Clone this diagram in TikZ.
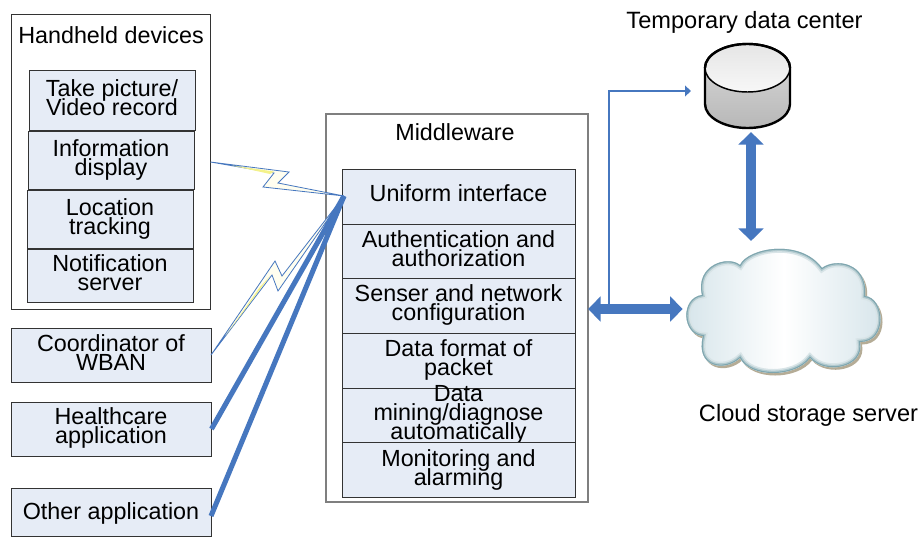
\documentclass[tikz,border=0pt]{standalone}
\usepackage{fontspec}
\setmainfont{Liberation Sans}
\usetikzlibrary{arrows.meta,shapes.geometric}
\setlength{\lineskiplimit}{-100pt}
\setlength{\normallineskiplimit}{-100pt}
\definecolor{boxfill}{HTML}{E6ECF6}
\definecolor{linkblue}{HTML}{4677BF}
\definecolor{outergrey}{HTML}{7F7F7F}
\definecolor{boltyellow}{HTML}{F4F28A}
\definecolor{boltpale}{HTML}{FFFEF0}
\definecolor{cloudedge}{HTML}{7FA6AF}
\definecolor{cloudbody}{HTML}{D5E4EA}
\definecolor{cloudshadow}{HTML}{B5AC96}
\tikzset{
  lab/.style={align=center,inner sep=0pt,font=\fontsize{17.5}{14.2}\selectfont,text=black},
  biglab/.style={lab,font=\fontsize{17.7}{14.2}\selectfont},
  cell/.style={lab,draw=black!80,line width=0.7pt,fill=boxfill},
  outer/.style={lab,draw=black!80,line width=0.7pt,fill=white},
  midouter/.style={lab,draw=outergrey,line width=1pt,fill=white},
  bolt/.style={draw=linkblue,line width=0.6pt,fill=boltpale,line join=miter},
  sliver/.style={fill=boltyellow,draw=none},
  thicklink/.style={draw=linkblue,line width=3.8pt},
  thinlink/.style={draw=linkblue,line width=1.5pt,-{Triangle[width=8pt,length=4.5pt]}},
  dbl/.style={draw=linkblue,line width=7.5pt,{Triangle[width=18.5pt,length=9.5pt]}-{Triangle[width=18.5pt,length=9.5pt]}},
}
% name, style, x1, y1, x2, y2, text, vertical text shift
\newcommand{\pxbox}[8]{%
  \pgfmathsetmacro{\cxv}{(#3+#5)/2}\pgfmathsetmacro{\cyv}{(#4+#6)/2}%
  \pgfmathsetmacro{\wv}{(#5-#3)*0.75}\pgfmathsetmacro{\hv}{(#6-#4)*0.75}%
  \node[#2,minimum width=\wv pt,minimum height=\hv pt] (#1) at (\cxv,\cyv) {};%
  \node[lab] (#1t) at (\cxv,\cyv+#8) {#7};%
}
\begin{document}
\begin{tikzpicture}[x=0.75pt,y=-0.75pt]
\useasboundingbox (0,0) rectangle (919,536);
\fill[white] (0,0) rectangle (919,536);

% left group
\pxbox{hand}{outer}{11}{14}{210}{309}{}{0}
\node[lab] (handt) at (111,35) {Handheld devices};
\pxbox{pic}{cell}{29}{70}{195}{130}{Take picture/\\Video record}{-2}
\pxbox{info}{cell}{28}{131}{194}{189}{Information\\display}{-0.5}
\pxbox{loc}{cell}{27}{190}{193}{248}{Location\\tracking}{0}
\pxbox{notif}{cell}{27}{249}{193}{302}{Notification\\server}{-3}
\pxbox{coord}{cell}{11}{328}{211}{382}{Coordinator of\\WBAN}{-2}
\pxbox{health}{cell}{11}{402}{211}{456}{Healthcare\\application}{-1}
\pxbox{other}{cell}{11}{488}{211}{536}{Other application}{1}

% middleware
\pxbox{mid}{midouter}{326}{114}{588}{502}{}{0}
\node[lab] (midt) at (455,132) {Middleware};
\pxbox{uni}{cell}{342}{169}{575}{224}{Uniform interface}{-3}
\pxbox{auth}{cell}{342}{224}{575}{278}{Authentication and\\authorization}{-2.5}
\pxbox{sens}{cell}{342}{278}{575}{333}{Senser and network\\configuration}{-1}
\pxbox{fmt}{cell}{342}{333}{575}{388}{Data format of\\packet}{-0.5}
\pxbox{mine}{cell}{342}{388}{575}{442}{Data\\mining/diagnose\\automatically}{0}
\pxbox{mon}{cell}{342}{442}{575}{497}{Monitoring and\\alarming}{0}

% connection points
\coordinate (hub) at (344,196);
\coordinate (handout) at (hand.east |- 0,162);
\coordinate (coordout) at (211,355);
\coordinate (healthout) at (health.east);
\coordinate (otherout) at (211,516);

% wireless bolts
\path[bolt] (handout) -- (274,173) -- (263,187) -- (hub) -- (278,183) -- (289,172) -- cycle;
\fill[sliver] (232,165.5) -- (274,171.5) -- (270,174) -- cycle;
\path[bolt] (coordout) -- (275,261) -- (282,276) -- (hub) -- (278,291) -- (272,275) -- cycle;
\fill[sliver] (226,335) -- (270,276) -- (260,287) -- cycle;

% wired links
\draw[thicklink] (healthout) -- (hub);
\draw[thicklink] (otherout) -- (hub);

% cylinder
\node[inner sep=0pt,minimum width=63.75pt,minimum height=63pt] (cyl) at (747.5,86) {};
\shade[top color=black!14,bottom color=black!28,draw=black,line width=1.8pt]
  (705,68) -- (705,104) arc[x radius=42.5,y radius=24,start angle=180,end angle=0]
  -- (790,68) arc[x radius=42.5,y radius=24,start angle=0,end angle=-180] -- cycle;
\shade[top color=black!10,bottom color=black!3,draw=black,line width=1.1pt]
  (747.5,68) ellipse[x radius=42.5,y radius=24];
\draw[black,line width=1.8pt] (705,68) arc[x radius=42.5,y radius=24,start angle=180,end angle=360];
\node[biglab] (cylt) at (744.5,22) {Temporary data center};

% cloud
\def\cloudoutline{(740,265) .. controls (748,248) and (800,238) .. (822,268)
 .. controls (835,258) and (868,262) .. (865,296)
 .. controls (885,298) and (888,342) .. (860,342)
 .. controls (865,368) and (825,375) .. (810,358)
 .. controls (795,378) and (750,378) .. (740,358)
 .. controls (725,372) and (695,368) .. (703,336)
 .. controls (682,335) and (680,298) .. (702,295)
 .. controls (695,265) and (728,255) .. (740,265) -- cycle}
\node[inner sep=0pt,minimum width=144pt,minimum height=95pt] (cloud) at (784,308) {};
\begin{scope}[shift={(2,2.5)}]
\fill[cloudshadow] \cloudoutline;
\end{scope}
\shade[left color=cloudbody,right color=cloudbody,middle color=white,shading angle=90]
  \cloudoutline;
\begin{scope}
\clip \cloudoutline;
\draw[cloudedge!30,line width=6pt] \cloudoutline;
\draw[cloudedge!60,line width=3.6pt] \cloudoutline;
\draw[cloudedge,line width=1.6pt] \cloudoutline;
\end{scope}
\node[biglab] (cloudt) at (808.5,415) {Cloud storage server};

% arrows on the right
\coordinate (busl) at (588,309);
\coordinate (bend) at (608.5,91);
\coordinate (busj) at (608.5,309);
\coordinate (cyltip) at (691,91);
\coordinate (vtop) at (751,132);
\coordinate (vbot) at (751,241);
\draw[dbl,shorten >=3.75pt] (busl) -- (cloud.west |- busl);
\draw[thinlink] (busj) -- (bend) -- (cyltip);
\draw[dbl] (vtop) -- (vbot);
\end{tikzpicture}
\end{document}
